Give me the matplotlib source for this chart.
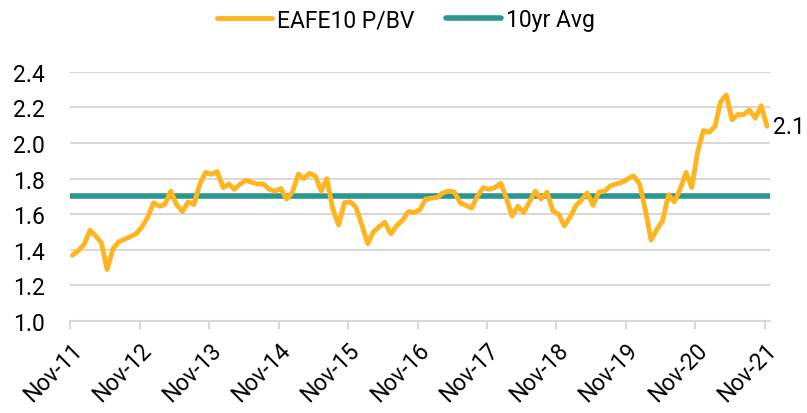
import matplotlib
matplotlib.use("Agg")
import matplotlib.pyplot as plt
import matplotlib.ticker as mticker
import pandas as pd

# monthly P/BV values, Nov-2011 .. Nov-2021
pbv = [
    1.37, 1.395, 1.43, 1.51, 1.48, 1.44, 1.29, 1.405, 1.445, 1.46, 1.475, 1.49,
    1.53, 1.585, 1.665, 1.645, 1.655, 1.73, 1.655, 1.615, 1.67, 1.655, 1.77, 1.835,
    1.825, 1.84, 1.75, 1.77, 1.74, 1.77, 1.79, 1.78, 1.77, 1.77, 1.74, 1.73,
    1.745, 1.685, 1.725, 1.825, 1.80, 1.83, 1.815, 1.73, 1.80, 1.63, 1.54, 1.665,
    1.67, 1.64, 1.54, 1.435, 1.50, 1.53, 1.555, 1.49, 1.535, 1.565, 1.615, 1.61,
    1.625, 1.685, 1.69, 1.695, 1.72, 1.73, 1.725, 1.665, 1.65, 1.635, 1.705, 1.75,
    1.74, 1.75, 1.775, 1.685, 1.59, 1.645, 1.61, 1.67, 1.73, 1.685, 1.725, 1.62,
    1.60, 1.535, 1.585, 1.65, 1.68, 1.72, 1.65, 1.725, 1.73, 1.76, 1.77, 1.78,
    1.80, 1.815, 1.77, 1.62, 1.455, 1.515, 1.565, 1.71, 1.67, 1.74, 1.835, 1.75,
    1.95, 2.07, 2.06, 2.095, 2.23, 2.27, 2.13, 2.16, 2.16, 2.185, 2.14, 2.21,
    2.095,
]
avg_10yr = 1.705
start_month = "2011-11-01"
tick_years = list(range(2011, 2022))
last_label = "2.1"

orange = "#FFB51F"
teal = "#2A9690"
grid_col = "#D9D9D9"

dates = pd.date_range(start_month, periods=len(pbv), freq="MS") + pd.Timedelta(days=12)

plt.rcParams["font.family"] = ["Roboto", "DejaVu Sans"]
fs = 16.5

fig = plt.figure(figsize=(8.07, 4.14), dpi=100)
ax = fig.add_axes([0.087, 0.222, 0.867, 0.602])

ax.plot(dates, pbv, color=orange, linewidth=3.5, solid_joinstyle="round",
        solid_capstyle="round", label="EAFE10 P/BV", zorder=3)
ax.axhline(avg_10yr, color=teal, linewidth=4.0, solid_capstyle="round",
           label="10yr Avg", zorder=2)

# label with last value
ax.annotate(last_label, (dates[-1], pbv[-1]), xytext=(4, 0),
            textcoords="offset points", va="center", ha="left", fontsize=fs)

ax.set_ylim(1.0, 2.4)
ax.set_yticks([1.0, 1.2, 1.4, 1.6, 1.8, 2.0, 2.2, 2.4])
ax.yaxis.set_major_formatter(mticker.FormatStrFormatter("%.1f"))
ax.grid(axis="y", color=grid_col, linewidth=1.5)
ax.set_axisbelow(True)

ticks = [pd.Timestamp(f"{y}-11-01") for y in tick_years]
ax.set_xticks(ticks)
ax.set_xticklabels([f"Nov-{str(y)[2:]}" for y in tick_years], rotation=45,
                   ha="right", rotation_mode="anchor")
ax.set_xlim(pd.Timestamp("2011-11-01"), pd.Timestamp("2021-11-28"))

for s in ["top", "right", "left"]:
    ax.spines[s].set_visible(False)
ax.spines["bottom"].set_color(grid_col)
ax.spines["bottom"].set_linewidth(1.5)

ax.tick_params(axis="y", length=0, pad=18, labelsize=fs)
ax.tick_params(axis="x", length=6, width=1.5, color=grid_col, pad=6, labelsize=fs)

fig.legend(loc="center", bbox_to_anchor=(0.503, 0.95), ncol=2, frameon=False,
           fontsize=fs, handlelength=2.4, handletextpad=0.2, columnspacing=1.4,
           borderaxespad=0)

fig.savefig("out.png", dpi=100)
